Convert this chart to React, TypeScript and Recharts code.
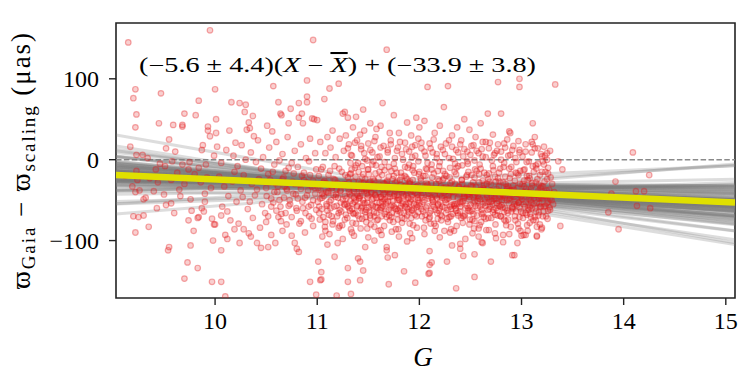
import React from 'react';
import {
  ComposedChart, Scatter, XAxis, YAxis, ReferenceLine, ReferenceArea, Customized,
} from 'recharts';

// ---- Axis setup ----
const X_MIN = 9.03;
const X_MAX = 15.09;
const Y_MIN = -171;
const Y_MAX = 169;
const xTicks = [10, 11, 12, 13, 14, 15];
const yTicks = [-100, 0, 100];

// ---- Fit result ----
const fitSlope = -5.6;
const fitIntercept = -33.9;
const xBar = 11.69;

// ---- Posterior sample lines (slope, intercept) ----
const lineSlopes = [
  -5.1, -9.8, -1.2, -6.4, -3.3, -12.0, -7.7, 0.4, -4.9, -8.6,
  -2.5, -5.9, -10.7, -6.8, -1.9, -4.2, -14.1, -7.1, -3.8, 2.3,
  -6.1, -9.1, -5.4, -0.7, -11.2, -4.6, -7.4, -2.9, -8.1, -5.7,
  3.5, -6.6, -13.0, -3.1, -9.5, -4.0, -6.9, -1.5, -5.2, -10.1,
  -7.9, -2.2, -16.3, -4.4, -8.8, 0.9, -6.2, -3.6, -11.7, -5.0,
  5.2, -7.3, -2.7, -9.3, -4.8, -6.0, -18.5, -1.0, -8.3, -5.5,
  7.8, -12.6, -3.4, -6.7, -20.1, -5.3, -8.0, -2.0, -4.5, -7.0,
  -9.9, -0.2, -6.3, -3.9, -11.0, -5.8, 1.6, -7.6, -4.1, -13.8,
  -6.5, -2.4, -8.4, -5.6, -10.4, -3.0, -15.2, -4.7, -7.2, 4.4,
  -5.9, -9.0, -1.7, -6.8, -12.3, -3.5, -8.9, -4.3, 10.2, -22.0,
];
const lineIntercepts = [
  -33.5, -37.2, -30.1, -35.8, -29.4, -38.6, -32.7, -34.9, -31.2, -40.3,
  -27.5, -36.1, -33.0, -39.4, -30.8, -35.2, -28.6, -34.3, -41.7, -32.1,
  -36.7, -31.6, -37.9, -29.9, -34.6, -26.4, -38.1, -33.3, -35.5, -30.5,
  -42.4, -32.9, -36.4, -28.1, -34.0, -39.0, -31.9, -35.1, -37.5, -30.3,
  -33.8, -44.5, -32.4, -36.9, -29.1, -34.7, -38.3, -31.4, -35.9, -33.2,
  -25.3, -37.0, -30.7, -34.4, -39.8, -32.6, -36.2, -28.9, -35.6, -31.0,
  -33.7, -29.6, -38.8, -31.8, -36.5, -34.1, -30.0, -37.7, -32.3, -35.0,
  -40.9, -33.1, -28.3, -36.0, -31.5, -34.8, -38.5, -29.2, -35.4, -32.0,
  -37.3, -33.6, -30.4, -39.2, -34.2, -27.0, -36.6, -31.1, -35.3, -43.1,
  -32.8, -38.0, -30.9, -34.5, -29.8, -36.8, -33.4, -31.7, -40.0, -28.0,
];

// ---- Stars: [G, parallax difference (µas)] ----
const starsG9 = [
  [9.15,145],[9.95,160],[9.22,87],[9.2,76],[9.23,56],[9.22,40],[9.47,82],[9.45,45],[9.59,43],[9.68,41],
  [9.7,57],[9.84,73],[9.81,55],[9.93,41],[9.68,43],[9.93,36],[9.95,29],[9.88,18],[9.87,12],[9.29,6],
  [9.23,6],[9.17,16],[9.55,25],[9.52,14],[9.61,10],[9.51,-8],[9.42,-12],[9.58,-2],[9.68,-6],[9.75,-3],
  [9.84,-10],[9.91,-6],[9.63,-16],[9.8,-18],[9.23,-14],[9.36,-23],[9.24,-25],[9.44,-28],[9.57,-25],[9.19,-33],
  [9.22,-40],[9.26,-38],[9.4,-39],[9.5,-43],[9.52,-56],[9.57,-54],[9.3,-49],[9.32,-47],[9.65,-37],[9.7,-30],
  [9.76,-49],[9.77,-63],[9.87,-60],[9.89,-64],[9.9,-52],[9.83,-72],[9.2,-70],[9.25,-71],[9.3,-69],[9.22,-90],
  [9.35,-83],[9.55,-108],[9.54,-112],[9.76,-106],[9.73,-127],[9.7,-147],[9.83,-134],[9.97,-151],[9.74,-75],[9.79,-88],
  [9.84,-71],[9.98,-100],[9.97,-73],[9.99,-80],[9.12,-20],[9.34,2],[9.46,-5],[9.66,-45],[9.92,-22],[9.96,-35],
  [9.6,-66],[9.43,-60],[9.86,-28],[9.74,-12],[9.99,5],[9.9,-42],
];
const starsG10 = [
  [10.01,50],[10.0,87],[10.16,71],[10.24,70],[10.3,68],[10.29,59],[10.33,46],[10.14,36],[10.31,37],[10.34,39],
  [10.38,29],[10.51,42],[10.62,71],[10.64,57],[10.74,63],[10.82,70],[10.82,52],[10.9,78],[10.9,98],[10.9,71],
  [10.96,148],[10.86,45],[10.72,45],[10.56,35],[10.01,33],[10.2,21],[10.02,16],[10.57,91],[10.65,55],[10.85,57],
  [10.95,51],[10.97,50],[10.37,54],[10.11,12],[10.18,5],[10.26,18],[10.35,9],[10.42,24],[10.47,3],[10.53,15],
  [10.6,22],[10.66,7],[10.71,28],[10.78,11],[10.84,19],[10.89,2],[10.93,26],[10.98,8],[10.06,-4],[10.22,-8],
  [10.3,0],[10.4,-3],[10.45,-11],[10.58,-6],[10.63,-1],[10.69,-14],[10.75,-4],[10.81,-9],[10.87,-16],[10.92,-2],
  [10.99,-12],[10.04,-21],[10.09,-33],[10.13,-45],[10.17,-27],[10.21,-52],[10.25,-38],[10.28,-19],[10.32,-61],[10.36,-30],
  [10.39,-44],[10.43,-24],[10.46,-55],[10.5,-35],[10.52,-18],[10.55,-48],[10.59,-29],[10.61,-40],[10.64,-58],[10.67,-22],
  [10.7,-36],[10.73,-50],[10.76,-27],[10.79,-43],[10.8,-63],[10.83,-31],[10.85,-20],[10.88,-47],[10.91,-38],[10.94,-56],
  [10.96,-26],[10.98,-42],[10.07,-58],[10.19,-15],[10.27,-46],[10.41,-37],[10.49,-66],[10.57,-53],[10.68,-33],[10.77,-17],
  [10.86,-60],[10.95,-33],[10.12,-64],[10.34,-52],[10.54,-25],[10.72,-57],[10.9,-28],[10.06,-112],[10.1,-93],[10.12,-98],
  [10.24,-103],[10.19,-86],[10.28,-86],[10.33,-91],[10.41,-103],[10.45,-109],[10.52,-108],[10.59,-103],[10.75,-94],[10.78,-103],
  [10.8,-110],[10.82,-114],[10.06,-151],[10.1,-169],[10.93,-151],[10.99,-167],[10.06,-69],[10.0,-80],[10.15,-75],[10.23,-79],
  [10.37,-72],[10.44,-84],[10.5,-77],[10.62,-71],[10.66,-88],[10.7,-80],[10.84,-76],[10.88,-90],[10.96,-82],[10.55,-93],
  [10.35,-95],[10.65,-67],[10.92,-70],
  [10.505,-45],[10.52,-70],[10.535,-28],[10.55,-58],[10.565,-15],[10.58,-40],[10.6,-63],[10.615,-33],[10.63,-50],[10.645,-76],
  [10.66,-24],[10.675,-47],[10.69,-66],[10.705,-38],[10.72,-10],[10.735,-55],[10.75,-71],[10.765,-42],[10.78,-30],[10.795,-60],
  [10.81,-48],[10.825,-79],[10.84,-36],[10.855,-52],[10.87,-25],[10.885,-66],[10.9,-44],[10.915,-58],[10.93,-19],[10.945,-73],
  [10.96,-50],[10.975,-35],[10.99,-62],
];
const starsG11 = [
  [11.07,75],[11.12,88],[11.21,94],[11.27,59],[11.25,57],[11.3,52],[11.38,53],[11.0,49],[11.68,136],[11.64,70],
  [11.62,42],[11.88,46],[11.45,62],[11.52,45],[11.58,38],[11.75,55],[11.8,33],[11.92,30],[11.35,40],[11.15,36],
  [11.1,28],[11.42,31],[11.97,52],[11.03,22],[11.08,8],[11.13,15],[11.18,3],[11.22,26],[11.26,11],[11.31,19],
  [11.34,5],[11.39,24],[11.43,13],[11.47,1],[11.5,20],[11.54,9],[11.57,28],[11.61,4],[11.65,17],[11.69,12],
  [11.72,24],[11.76,2],[11.79,15],[11.83,7],[11.86,21],[11.9,10],[11.93,3],[11.96,18],[11.99,26],[11.46,36],
  [11.71,33],[11.28,30],[11.55,-2],
  [11.01,-35],[11.02,-58],[11.04,-12],[11.05,-47],[11.06,-71],[11.07,-26],[11.09,-40],[11.1,-63],[11.11,-19],[11.12,-52],
  [11.14,-33],[11.15,-80],[11.16,-44],[11.17,-8],[11.19,-57],[11.2,-29],[11.21,-66],[11.23,-38],[11.24,-15],[11.25,-49],
  [11.27,-74],[11.28,-31],[11.29,-55],[11.3,-22],[11.32,-43],[11.33,-86],[11.34,-61],[11.36,-36],[11.37,-10],[11.38,-50],
  [11.4,-69],[11.41,-27],[11.42,-45],[11.44,-58],[11.45,-18],[11.46,-39],[11.48,-77],[11.49,-53],[11.5,-30],[11.51,-64],
  [11.53,-41],[11.54,-6],[11.55,-48],[11.56,-83],[11.58,-34],[11.59,-59],[11.6,-23],[11.62,-46],[11.63,-70],[11.64,-37],
  [11.66,-13],[11.67,-55],[11.68,-28],[11.7,-62],[11.71,-42],[11.73,-89],[11.74,-51],[11.75,-20],[11.77,-36],[11.78,-67],
  [11.79,-47],[11.81,-25],[11.82,-57],[11.83,-78],[11.85,-33],[11.86,-9],[11.87,-44],[11.89,-61],[11.9,-29],[11.91,-52],
  [11.92,-72],[11.94,-39],[11.95,-16],[11.97,-56],[11.98,-43],[11.99,-65],
  [11.03,-48],[11.06,-28],[11.08,-77],[11.11,-39],[11.13,-60],[11.16,-24],[11.18,-46],[11.21,-84],[11.23,-53],[11.26,-32],
  [11.28,-68],[11.31,-40],[11.33,-17],[11.35,-54],[11.38,-79],[11.4,-34],[11.43,-60],[11.45,-50],[11.47,-24],[11.5,-44],
  [11.52,-72],[11.55,-31],[11.57,-58],[11.6,-40],[11.62,-87],[11.64,-52],[11.66,-30],[11.69,-46],[11.71,-75],[11.74,-35],
  [11.76,-60],[11.78,-27],[11.8,-49],[11.83,-41],[11.85,-66],[11.87,-22],[11.9,-54],[11.92,-37],[11.94,-81],[11.97,-33],
  [11.99,-50],[11.02,-66],[11.05,-42],[11.09,-55],[11.14,-70],[11.19,-37],[11.22,-62],[11.27,-45],[11.3,-58],[11.36,-67],
  [11.39,-43],[11.44,-73],[11.48,-38],[11.53,-56],[11.58,-66],[11.61,-53],[11.65,-43],[11.68,-71],[11.72,-58],[11.75,-45],
  [11.79,-74],[11.82,-36],[11.86,-58],[11.89,-47],[11.93,-63],[11.96,-48],
  [11.01,-126],[11.04,-139],[11.03,-149],[11.17,-120],[11.3,-134],[11.42,-126],[11.3,-151],[11.42,-149],[11.33,-166],[11.19,-168],
  [11.2,-103],[11.04,-148],[11.68,-108],[11.69,-121],[11.76,-118],[11.7,-154],[11.85,-138],[11.96,-152],[11.88,-101],[11.4,-122],
  [11.45,-137],[11.68,-112],[11.05,-95],[11.12,-92],[11.25,-98],[11.36,-94],[11.5,-96],[11.56,-100],[11.63,-93],[11.8,-95],
  [11.93,-97],[11.1,-105],[11.47,-108],[11.08,-88],[11.22,-82],[11.34,-90],[11.49,-85],[11.6,-88],[11.77,-86],[11.91,-91],
];
const starsCore11 = [
  [11.005,-52],[11.015,-20],[11.025,-74],[11.035,-38],[11.045,-61],[11.055,-9],[11.065,-45],[11.075,-83],[11.085,-29],[11.095,-57],
  [11.105,-41],[11.115,-68],[11.125,-14],[11.135,-50],[11.145,-35],[11.155,-76],[11.165,-58],[11.175,-25],[11.185,-43],[11.195,-70],
  [11.205,-47],[11.215,-11],[11.225,-39],[11.235,-64],[11.245,-81],[11.255,-30],[11.265,-55],[11.275,-19],[11.285,-48],[11.295,-72],
  [11.305,-36],[11.315,-60],[11.325,-4],[11.335,-44],[11.345,-78],[11.355,-27],[11.365,-52],[11.375,-66],[11.385,-33],[11.395,-57],
  [11.405,-15],[11.415,-47],[11.425,-85],[11.435,-38],[11.445,-63],[11.455,-29],[11.465,-54],[11.475,-71],[11.485,-42],[11.495,-12],
  [11.505,-59],[11.515,-35],[11.525,-80],[11.535,-49],[11.545,-24],[11.555,-65],[11.565,-43],[11.575,-7],[11.585,-53],[11.595,-74],
  [11.605,-31],[11.615,-62],[11.625,-46],[11.635,-19],[11.645,-57],[11.655,-82],[11.665,-40],[11.675,-64],[11.685,-26],[11.695,-51],
  [11.705,-69],[11.715,-33],[11.725,-14],[11.735,-56],[11.745,-77],[11.755,-43],[11.765,-28],[11.775,-61],[11.785,-50],[11.795,-86],
  [11.805,-37],[11.815,-65],[11.825,-21],[11.835,-54],[11.845,-45],[11.855,-73],[11.865,-32],[11.875,-59],[11.885,-10],[11.895,-48],
  [11.905,-79],[11.915,-40],[11.925,-62],[11.935,-25],[11.945,-55],[11.955,-68],[11.965,-35],[11.975,-84],[11.985,-47],[11.995,-18],
  [11.32,-63],[11.41,-48],[11.47,-65],[11.52,-27],[11.58,-47],[11.63,-59],[11.69,-38],[11.73,-66],[11.78,-44],[11.84,-52],
  [11.88,-69],[11.93,-44],[11.98,-58],[11.36,-47],[11.44,-36],[11.56,-70],[11.66,-49],[11.81,-60],[11.91,-30],[11.27,-56],
];
const starsG12 = [
  [12.08,90],[12.28,91],[12.24,65],[12.77,96],[12.98,100],[12.98,90],[12.67,57],[12.8,57],[12.6,45],[12.37,40],
  [12.49,37],[12.05,48],[12.0,40],[12.88,35],[12.97,23],[12.89,33],[12.15,33],[12.32,30],[12.55,28],[12.72,31],
  [12.44,50],[12.2,42],[12.62,22],[12.83,20],[12.02,14],[12.06,5],[12.1,20],[12.13,9],[12.17,2],[12.21,16],
  [12.25,7],[12.29,24],[12.33,1],[12.36,12],[12.4,19],[12.43,4],[12.47,10],[12.51,17],[12.54,-1],[12.58,8],
  [12.61,13],[12.65,3],[12.69,21],[12.73,6],[12.76,11],[12.8,0],[12.84,15],[12.87,5],[12.91,12],[12.94,2],
  [12.98,9],
  [12.01,-38],[12.02,-61],[12.04,-20],[12.05,-50],[12.06,-75],[12.08,-31],[12.09,-45],[12.1,-66],[12.12,-12],[12.13,-55],
  [12.14,-37],[12.16,-82],[12.17,-48],[12.18,-24],[12.2,-60],[12.21,-33],[12.22,-70],[12.24,-41],[12.25,-18],[12.26,-53],
  [12.28,-77],[12.29,-35],[12.3,-58],[12.32,-27],[12.33,-46],[12.34,-88],[12.36,-63],[12.37,-39],[12.38,-8],[12.4,-52],
  [12.41,-72],[12.42,-30],[12.44,-47],[12.45,-60],[12.46,-21],[12.48,-42],[12.49,-80],[12.5,-56],[12.52,-33],[12.53,-67],
  [12.54,-44],[12.56,-14],[12.57,-51],[12.58,-85],[12.6,-37],[12.61,-62],[12.62,-26],[12.64,-49],[12.65,-73],[12.66,-40],
  [12.68,-17],[12.69,-58],[12.7,-31],[12.72,-65],[12.73,-45],[12.74,-91],[12.76,-54],[12.77,-23],[12.78,-39],[12.8,-70],
  [12.81,-50],[12.82,-28],[12.84,-60],[12.85,-81],[12.86,-36],[12.88,-11],[12.89,-47],[12.9,-64],[12.92,-32],[12.93,-55],
  [12.94,-75],[12.96,-42],[12.97,-19],[12.98,-59],[12.99,-46],
  [12.03,-52],[12.07,-29],[12.11,-79],[12.15,-43],[12.19,-63],[12.23,-25],[12.27,-49],[12.31,-86],[12.35,-55],[12.39,-34],
  [12.43,-70],[12.47,-44],[12.51,-19],[12.55,-57],[12.59,-81],[12.63,-37],[12.67,-62],[12.71,-51],[12.75,-27],[12.79,-46],
  [12.83,-74],[12.87,-33],[12.91,-59],[12.95,-42],[12.99,-88],[12.02,-44],[12.06,-68],[12.1,-36],[12.14,-58],[12.18,-73],
  [12.22,-47],[12.26,-66],[12.3,-40],[12.34,-57],[12.38,-69],[12.42,-52],[12.46,-35],[12.5,-64],[12.54,-76],[12.58,-48],
  [12.62,-55],[12.66,-30],[12.7,-44],[12.74,-68],[12.78,-57],[12.82,-45],[12.86,-63],[12.9,-38],[12.94,-52],[12.98,-71],
  [12.1,-113],[12.12,-127],[12.1,-130],[12.1,-140],[12.09,-141],[12.27,-126],[12.36,-159],[12.54,-145],[12.54,-117],[12.43,-119],
  [12.4,-110],[12.7,-126],[12.91,-118],[12.93,-118],[12.96,-103],[12.82,-102],[12.62,-103],[12.32,-106],[12.61,-102],[12.82,-93],
  [12.2,-96],[12.45,-98],[12.05,-92],[12.3,-90],[12.58,-95],[12.75,-97],[12.88,-92],[12.15,-88],[12.52,-91],[12.68,-87],
  [12.97,-85],[12.4,-104],
];
const starsCore12 = [
  [12.005,-57],[12.015,-26],[12.025,-70],[12.035,-41],[12.045,-84],[12.055,-33],[12.065,-59],[12.075,-12],[12.085,-48],[12.095,-73],
  [12.105,-38],[12.115,-63],[12.125,-22],[12.135,-52],[12.145,-79],[12.155,-45],[12.165,-30],[12.175,-66],[12.185,-55],[12.195,-8],
  [12.205,-43],[12.215,-75],[12.225,-58],[12.235,-35],[12.245,-88],[12.255,-50],[12.265,-20],[12.275,-62],[12.285,-44],[12.295,-71],
  [12.305,-29],[12.315,-56],[12.325,-67],[12.335,-39],[12.345,-15],[12.355,-60],[12.365,-82],[12.375,-47],[12.385,-33],[12.395,-64],
  [12.405,-54],[12.415,-25],[12.425,-78],[12.435,-42],[12.445,-68],[12.455,-36],[12.465,-57],[12.475,-5],[12.485,-49],[12.495,-74],
  [12.505,-40],[12.515,-63],[12.525,-28],[12.535,-85],[12.545,-52],[12.555,-34],[12.565,-69],[12.575,-45],[12.585,-18],[12.595,-58],
  [12.605,-77],[12.615,-41],[12.625,-66],[12.635,-31],[12.645,-53],[12.655,-87],[12.665,-46],[12.675,-24],[12.685,-61],[12.695,-38],
  [12.705,-72],[12.715,-55],[12.725,-13],[12.735,-48],[12.745,-80],[12.755,-36],[12.765,-63],[12.775,-51],[12.785,-27],[12.795,-70],
  [12.805,-42],[12.815,-59],[12.825,-9],[12.835,-47],[12.845,-76],[12.855,-34],[12.865,-66],[12.875,-54],[12.885,-23],[12.895,-83],
  [12.905,-45],[12.915,-61],[12.925,-37],[12.935,-70],[12.945,-16],[12.955,-56],[12.965,-79],[12.975,-43],[12.985,-30],[12.995,-64],
  [13.005,-49],[13.015,-72],[13.025,-26],[13.035,-58],[13.045,-36],[13.055,-81],[13.065,-44],[13.075,-20],[13.085,-67],[13.095,-53],
  [13.105,-32],[13.115,-75],[13.125,-47],[13.135,-60],[13.145,-11],[13.155,-41],[13.165,-69],[13.175,-54],[13.185,-35],[13.195,-86],
  [13.205,-48],[13.215,-64],[13.225,-27],[13.235,-57],[13.245,-38],[13.255,-73],[13.265,-44],[13.275,-59],[13.285,-22],[13.295,-50],
  [12.12,-47],[12.26,-39],[12.37,-55],[12.48,-60],[12.57,-40],[12.68,-52],[12.79,-58],[12.88,-49],[12.97,-53],[13.08,-58],
  [13.18,-45],[13.26,-63],[12.2,-52],[12.44,-45],[12.63,-71],[12.84,-40],[13.04,-66],[12.31,-70],[12.53,-46],[12.75,-60],
];
const starsCoreMid = [
  [11.31,-28],[11.323,-51],[11.336,-12],[11.349,-66],[11.362,-39],[11.375,-21],[11.388,-58],[11.401,-45],[11.414,-73],[11.427,-30],
  [11.44,-8],[11.453,-54],[11.466,-35],[11.479,-62],[11.492,-47],[11.505,-18],[11.518,-69],[11.531,-40],[11.544,-57],[11.557,-26],
  [11.57,-44],[11.583,-75],[11.596,-33],[11.609,-15],[11.622,-60],[11.635,-48],[11.648,-29],[11.661,-67],[11.674,-53],[11.687,-37],
  [11.7,-9],[11.713,-46],[11.726,-71],[11.739,-24],[11.752,-58],[11.765,-39],[11.778,-16],[11.791,-63],[11.804,-50],[11.817,-31],
  [11.83,-72],[11.843,-43],[11.856,-20],[11.869,-55],[11.882,-38],[11.895,-65],[11.908,-27],[11.921,-49],[11.934,-13],[11.947,-60],
  [11.96,-41],[11.973,-70],[11.986,-32],[11.999,-54],[12.012,-23],[12.025,-47],[12.038,-64],[12.051,-36],[12.064,-11],[12.077,-57],
  [12.09,-42],[12.103,-71],[12.116,-29],[12.129,-50],[12.142,-17],[12.155,-62],[12.168,-38],[12.181,-56],[12.194,-26],[12.207,-68],
  [12.22,-45],[12.233,-14],[12.246,-59],[12.259,-34],[12.272,-73],[12.285,-48],[12.298,-22],[12.311,-61],[12.324,-40],[12.337,-55],
  [12.35,-30],[12.363,-10],[12.376,-66],[12.389,-43],[12.402,-58],[12.415,-25],[12.428,-51],[12.441,-70],[12.454,-37],[12.467,-19],
  [12.48,-63],[12.493,-46],[12.506,-32],[12.519,-74],[12.532,-54],[12.545,-12],[12.558,-41],[12.571,-60],[12.584,-28],[12.597,-49],
  [12.61,-67],[12.623,-35],[12.636,-16],[12.649,-57],[12.662,-44],[12.675,-72],[12.688,-27],[12.701,-52],[12.714,-39],[12.727,-62],
  [12.74,-21],[12.753,-48],[12.766,-69],[12.779,-33],[12.792,-11],[12.805,-56],[12.818,-43],[12.831,-65],[12.844,-30],[12.857,-50],
  [12.87,-74],[12.883,-38],[12.896,-18],[12.909,-59],[12.922,-46],[12.935,-26],[12.948,-64],[12.961,-35],[12.974,-53],[12.987,-14],
  [13.0,-45],[13.013,-66],[13.026,-33],[13.039,-52],[13.052,-20],[13.065,-60],[13.078,-40],[13.091,-71],[13.104,-29],[13.117,-55],
  [13.13,-43],[13.143,-64],[13.156,-24],[13.169,-48],[13.182,-58],[13.195,-33],[13.208,-70],[13.221,-45],[13.234,-15],[13.247,-54],
];
const starsCoreUpper = [
  [11.3,14],[11.33,6],[11.37,21],[11.4,-4],[11.43,17],[11.46,8],[11.49,-1],[11.52,12],[11.56,23],[11.59,3],
  [11.62,15],[11.66,-3],[11.69,9],[11.72,19],[11.75,-5],[11.78,11],[11.81,22],[11.84,0],[11.87,13],[11.9,-6],
  [11.93,16],[11.96,5],[11.99,-2],[12.02,21],[12.05,10],[12.08,-4],[12.11,14],[12.14,25],[12.17,7],[12.2,-3],
  [12.23,12],[12.26,20],[12.29,2],[12.32,16],[12.35,-5],[12.38,9],[12.41,24],[12.44,13],[12.47,-2],[12.5,6],
  [12.53,18],[12.56,11],[12.59,-6],[12.62,4],[12.65,22],[12.68,14],[12.71,-1],[12.74,8],[12.77,19],[12.8,10],
  [12.83,-4],[12.86,25],[12.89,6],[12.92,17],[12.95,-3],[12.98,12],[13.01,4],[13.04,19],[13.07,-2],[13.1,9],
  [13.13,14],[13.16,-5],[13.19,7],[13.22,16],[13.25,0],[13.28,11],
  [11.32,-18],[11.38,-7],[11.44,-22],[11.5,-12],[11.57,-17],[11.63,-9],[11.7,-21],[11.76,-11],[11.82,-16],[11.88,-24],
  [11.94,-8],[12.0,-15],[12.06,-20],[12.12,-6],[12.18,-14],[12.24,-23],[12.3,-10],[12.36,-18],[12.42,-7],[12.48,-15],
  [12.54,-22],[12.6,-11],[12.66,-19],[12.72,-8],[12.78,-16],[12.84,-21],[12.9,-9],[12.96,-17],[13.02,-13],[13.08,-23],
  [13.14,-7],[13.2,-15],[13.26,-10],
];
const starsG13 = [
  [13.11,45],[13.33,93],[13.11,19],[13.36,-2],[13.2,4],[13.23,5],[14.09,9],[14.25,-19],[13.92,-27],[14.12,-39],
  [14.2,-39],[14.13,-57],[14.26,-60],[13.85,-65],[13.88,-42],[13.95,-86],[13.38,-82],[13.15,-83],[13.15,-94],[13.0,-94],
  [13.04,-93],[13.15,-95],[13.02,-93],
  [13.01,-30],[13.02,-55],[13.03,-12],[13.04,-42],[13.05,-68],[13.06,-25],[13.07,-49],[13.08,-78],[13.09,-36],[13.1,-60],
  [13.11,-8],[13.12,-44],[13.13,-71],[13.14,-28],[13.15,-53],[13.16,-39],[13.17,-65],[13.18,-19],[13.19,-47],[13.2,-84],
  [13.21,-33],[13.22,-58],[13.23,-41],[13.24,-70],[13.25,-24],[13.26,-52],[13.27,-37],[13.28,-62],[13.02,-40],[13.05,-3],
  [13.07,-62],[13.09,-50],[13.12,-15],[13.14,-75],[13.17,-31],[13.19,-58],[13.22,-6],[13.24,-45],[13.26,-17],[13.28,-48],
  [13.04,10],[13.1,22],[13.16,14],[13.21,-2],[13.13,28],[13.25,8],[13.3,-30],[13.31,-55],[13.32,-40],[13.4,-12],
  [13.06,-88],[13.18,-80],
];

const stars = [
  ...starsG9, ...starsG10, ...starsG11, ...starsCore11, ...starsG12, ...starsCore12,
  ...starsCoreMid, ...starsCoreUpper, ...starsG13,
].map(([g, d]) => ({ g, d }));

const sampleLines = lineSlopes.map((s, i) => [
  { g: X_MIN, d: lineIntercepts[i] + s * (X_MIN - xBar) },
  { g: X_MAX, d: lineIntercepts[i] + s * (X_MAX - xBar) },
]);
const fitLine = [
  { g: X_MIN, d: fitIntercept + fitSlope * (X_MIN - xBar) },
  { g: X_MAX, d: fitIntercept + fitSlope * (X_MAX - xBar) },
];

const FONT = '"Liberation Serif", "DejaVu Serif", serif';
const RED = '#e41a1c';

const StarDot = (props: any) => {
  const { cx, cy } = props;
  if (cx == null || cy == null) return <g />;
  return (
    <circle cx={cx} cy={cy} r={2.8} fill={RED} fillOpacity={0.21}
      stroke={RED} strokeOpacity={0.36} strokeWidth={1.2} />
  );
};
const NoDot = () => <g />;
const fmt = (v: number) => (v < 0 ? '\u2212' + Math.abs(v) : String(v));

const Texts = () => (
  <g fontFamily={FONT} fill="#000">
    <text x={139} y={72} fontSize={20.5} textLength={397} lengthAdjust="spacingAndGlyphs">
      (−5.6 ± 4.4)(<tspan fontStyle="italic">X</tspan> − <tspan fontStyle="italic" style={{ textDecoration: 'overline' }}>X</tspan>) + (−33.9 ± 3.8)
    </text>
    <text x={423} y={366} fontSize={27} fontStyle="italic" textAnchor="middle">G</text>
    <text transform="translate(30,161) rotate(-90)" fontSize={27} textAnchor="middle" textLength={256} lengthAdjust="spacing">
      ϖ<tspan fontSize={19} dy={5}>Gaia</tspan><tspan dy={-5}> − ϖ</tspan><tspan fontSize={19} dy={5}>scaling</tspan><tspan dy={-5}> (μas)</tspan>
    </text>
  </g>
);

export default function App() {
  return (
    <div style={{ position: 'absolute', left: 0, top: 0, width: 750, height: 375, background: '#fff' }}>
      <ComposedChart width={750} height={375} margin={{ top: 23, right: 15, bottom: 0, left: 0 }}>
        <XAxis type="number" dataKey="g" domain={[X_MIN, X_MAX]} allowDataOverflow ticks={xTicks}
          axisLine={false} tickSize={7} tickMargin={7} height={77}
          tickLine={{ stroke: '#222', strokeWidth: 1.4 }}
          tick={{ fontFamily: FONT, fontSize: 24, fill: '#000' }} />
        <YAxis type="number" dataKey="d" domain={[Y_MIN, Y_MAX]} allowDataOverflow ticks={yTicks}
          axisLine={false} tickSize={7} tickMargin={10} width={116} tickFormatter={fmt}
          tickLine={{ stroke: '#222', strokeWidth: 1.4 }}
          tick={{ fontFamily: FONT, fontSize: 24, fill: '#000' }} />
        {sampleLines.map((ln, i) => (
          <Scatter key={'s' + i} data={ln} shape={NoDot} isAnimationActive={false}
            line={{ stroke: '#7c7c7c', strokeOpacity: 0.26, strokeWidth: 3 }} />
        ))}
        <Scatter data={stars} shape={StarDot} isAnimationActive={false} />
        <ReferenceLine y={0} stroke="#8a8a8a" strokeWidth={1.5} strokeDasharray="5.5 2.4" />
        <Scatter data={fitLine} shape={NoDot} isAnimationActive={false}
          line={{ stroke: '#e0e000', strokeWidth: 6.5 }} />
        <ReferenceArea x1={X_MIN} x2={X_MAX} y1={Y_MIN} y2={Y_MAX} fill="none" fillOpacity={0}
          stroke="#222" strokeWidth={1.6} ifOverflow="visible" />
        <Customized component={Texts} />
      </ComposedChart>
    </div>
  );
}
